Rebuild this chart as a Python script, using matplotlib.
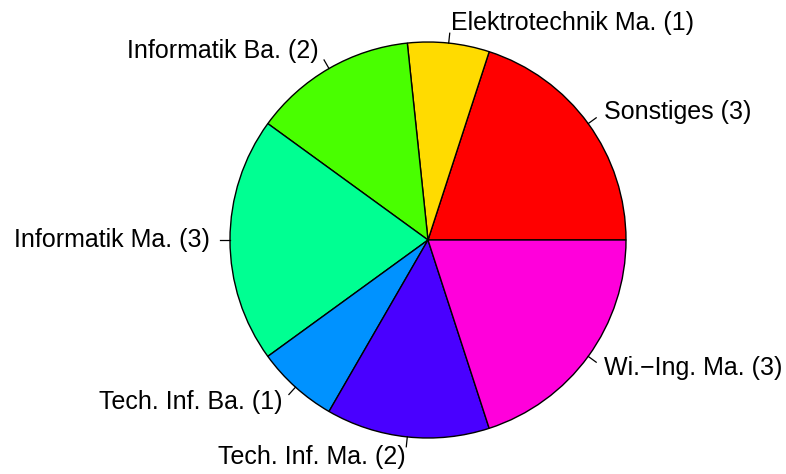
import numpy as np
import matplotlib.pyplot as plt

labels = ["Sonstiges (3)", "Elektrotechnik Ma. (1)", "Informatik Ba. (2)",
          "Informatik Ma. (3)", "Tech. Inf. Ba. (1)", "Tech. Inf. Ma. (2)",
          "Wi.\u2212Ing. Ma. (3)"]
counts = [3, 1, 2, 3, 1, 2, 3]
colors = ["#FF0000", "#FFDB00", "#49FF00", "#00FF92", "#0092FF", "#4900FF", "#FF00DB"]

plt.rcParams['font.family'] = ['Liberation Sans', 'DejaVu Sans']

fig = plt.figure(figsize=(7.86, 4.74), dpi=100)
ax = fig.add_axes([0, 0, 1, 1])

ax.pie(counts, colors=colors, startangle=0, counterclock=True, radius=1,
       wedgeprops=dict(edgecolor='black', linewidth=1.0))

# R style labels: tick from 1 to 1.05, text at 1.1
frac = np.cumsum([0] + counts) / sum(counts)
for i, lab in enumerate(labels):
    mid = 2 * np.pi * (frac[i] + frac[i + 1]) / 2
    c, s = np.cos(mid), np.sin(mid)
    ax.plot([c, 1.05 * c], [s, 1.05 * s], color='black', lw=0.9)
    ax.text(1.1 * c, 1.1 * s, lab, ha='left' if c > 0 else 'right',
            va='center', fontsize=18)

cx, cy, r = 428, 240, 198  # pixel centre and radius
ax.set_aspect('auto')
ax.set_xlim(-cx / r, (786 - cx) / r)
ax.set_ylim(-(474 - cy) / r, cy / r)
ax.axis('off')

fig.savefig("out.png", dpi=100)
